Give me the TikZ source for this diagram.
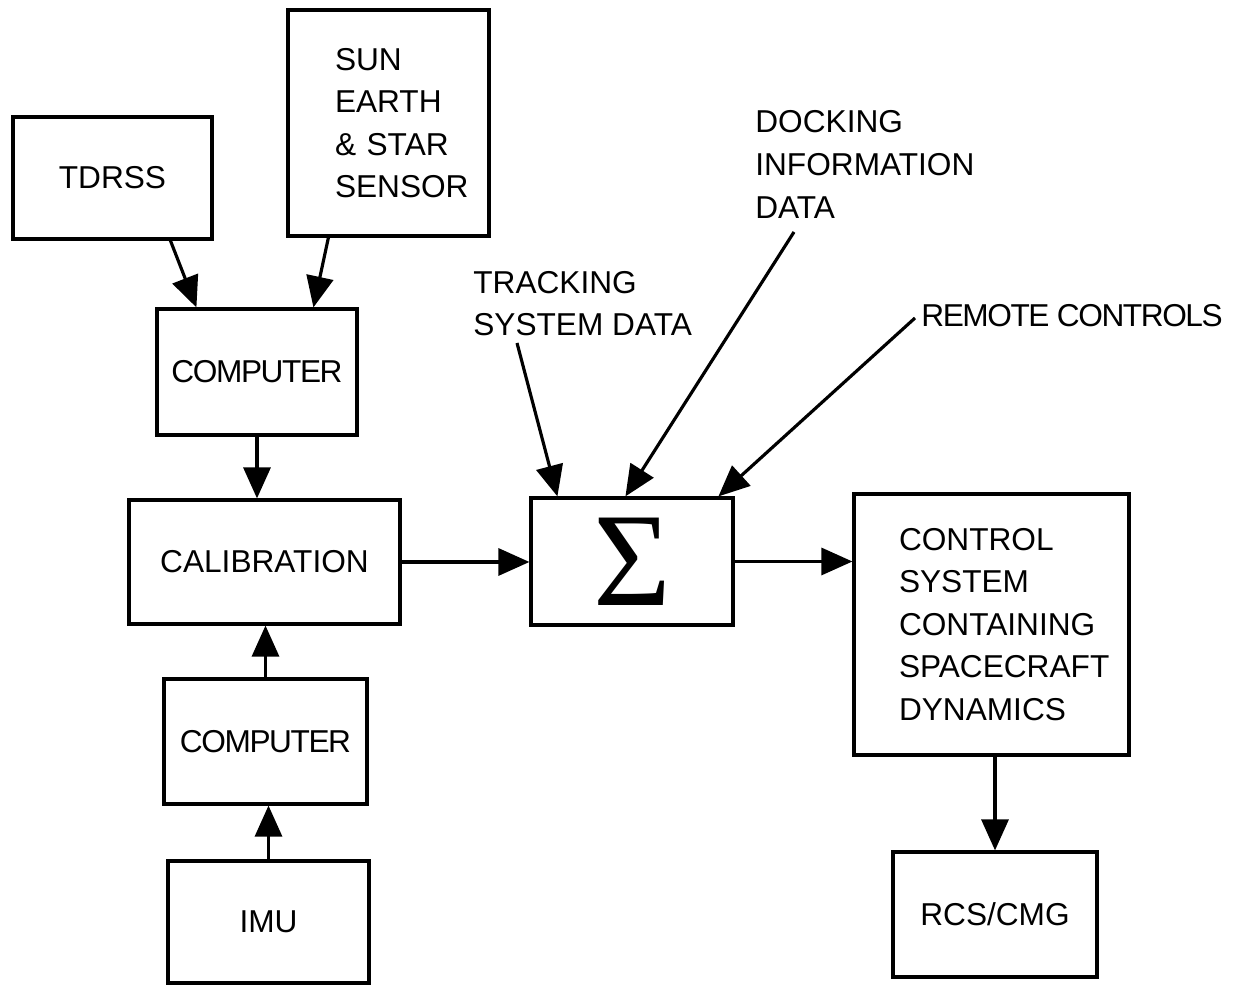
\documentclass[tikz,border=0pt]{standalone}
\usepackage{fontspec}
\setmainfont{Liberation Sans}
\newfontfamily\sigmafont{Liberation Serif}
\usetikzlibrary{arrows.meta, positioning}
\definecolor{cInk}{HTML}{000000}
\newcommand{\tight}[1]{{\addfontfeature{LetterSpace=-4.5}#1}}
\tikzset{
  blk/.style={rectangle, draw=cInk, line width=1.8pt, inner sep=0pt, align=center,
              font=\fontsize{18}{24.2}\selectfont, text=cInk},
  lab/.style={anchor=west, inner sep=0pt, align=left, font=\fontsize{18}{24.2}\selectfont, text=cInk},
  main/.style={-{Triangle[length=6.2mm, width=5.4mm]}, line width=1.8pt, draw=cInk},
}

\begin{document}
\begin{tikzpicture}[x=1cm, y=1cm]
  \useasboundingbox (0,0) rectangle (24.78,19.7);

  % ---- attitude sources and their processing chain
  \node[blk, minimum width=3.98cm, minimum height=2.44cm] (tdrss) at (2.25,16.14) {TDRSS};
  \node[blk, minimum width=4.02cm, minimum height=4.52cm, text width=2.14cm, align=left] (sensor) at (7.77,17.24)
       {SUN\\ EARTH\\ \&~STAR\\ SENSOR};
  \node[blk, minimum width=4.0cm, minimum height=2.52cm] (compA) at (5.14,12.26) {\tight{COMPUTER}};
  \node[blk, minimum width=5.42cm, minimum height=2.48cm] (calib) at (5.29,8.46) {CALIBRATION};
  \node[blk, minimum width=4.06cm, minimum height=2.5cm] (compB) at (5.31,4.87) {\tight{COMPUTER}};
  \node[blk, minimum width=4.02cm, minimum height=2.44cm] (imu) at (5.37,1.26) {IMU};

  % ---- summing junction and plant
  \node[blk, minimum width=4.04cm, minimum height=2.54cm, font=\sigmafont\fontsize{76}{76}\selectfont] (sum) at (12.64,8.47) {Σ};
  \node[blk, minimum width=5.5cm, minimum height=5.22cm, text width=3.7cm, align=left] (ctrl) at (19.83,7.21)
       {CONTROL\\ SYSTEM\\ CONTAINING\\ SPACECRAFT\\ DYNAMICS};
  \node[blk, minimum width=4.08cm, minimum height=2.5cm] (rcs) at (19.9,1.41) {RCS/CMG};

  % ---- external inputs to the sum
  \node[lab] (trk) at (9.46,13.63) {TRACKING\\ SYSTEM DATA};
  \node[lab] (dock) at (15.1,16.41) {DOCKING\\ INFORMATION\\ DATA};
  \node[lab] (remote) at (18.42,13.38) {\tight{REMOTE CONTROLS}};
  \coordinate (trkEnd) at (10.34,12.84);
  \coordinate (dockEnd) at (15.88,15.06);
  \coordinate (remEnd) at (18.3,13.34);

  % ---- arrows
  \draw[main] ([xshift=3.18cm]tdrss.south west) -- ([xshift=0.82cm]compA.north west);
  \draw[main] ([xshift=0.84cm]sensor.south west) -- ([xshift=3.16cm]compA.north west);
  \draw[main] (compA.south) -- (compA.south |- calib.north);
  \draw[main] (compB.north) -- (compB.north |- calib.south);
  \draw[main] (imu.north) -- (imu.north |- compB.south);
  \draw[main] (calib.east) -- (calib.east -| sum.west);
  \draw[main] (trkEnd) -- ([xshift=0.56cm]sum.north west);
  \draw[main] (dockEnd) -- ([xshift=1.92cm]sum.north west);
  \draw[main] (remEnd) -- ([xshift=3.78cm]sum.north west);
  \draw[main] (sum.east) -- (sum.east -| ctrl.west);
  \draw[main] (rcs.north |- ctrl.south) -- (rcs.north);
\end{tikzpicture}
\end{document}
